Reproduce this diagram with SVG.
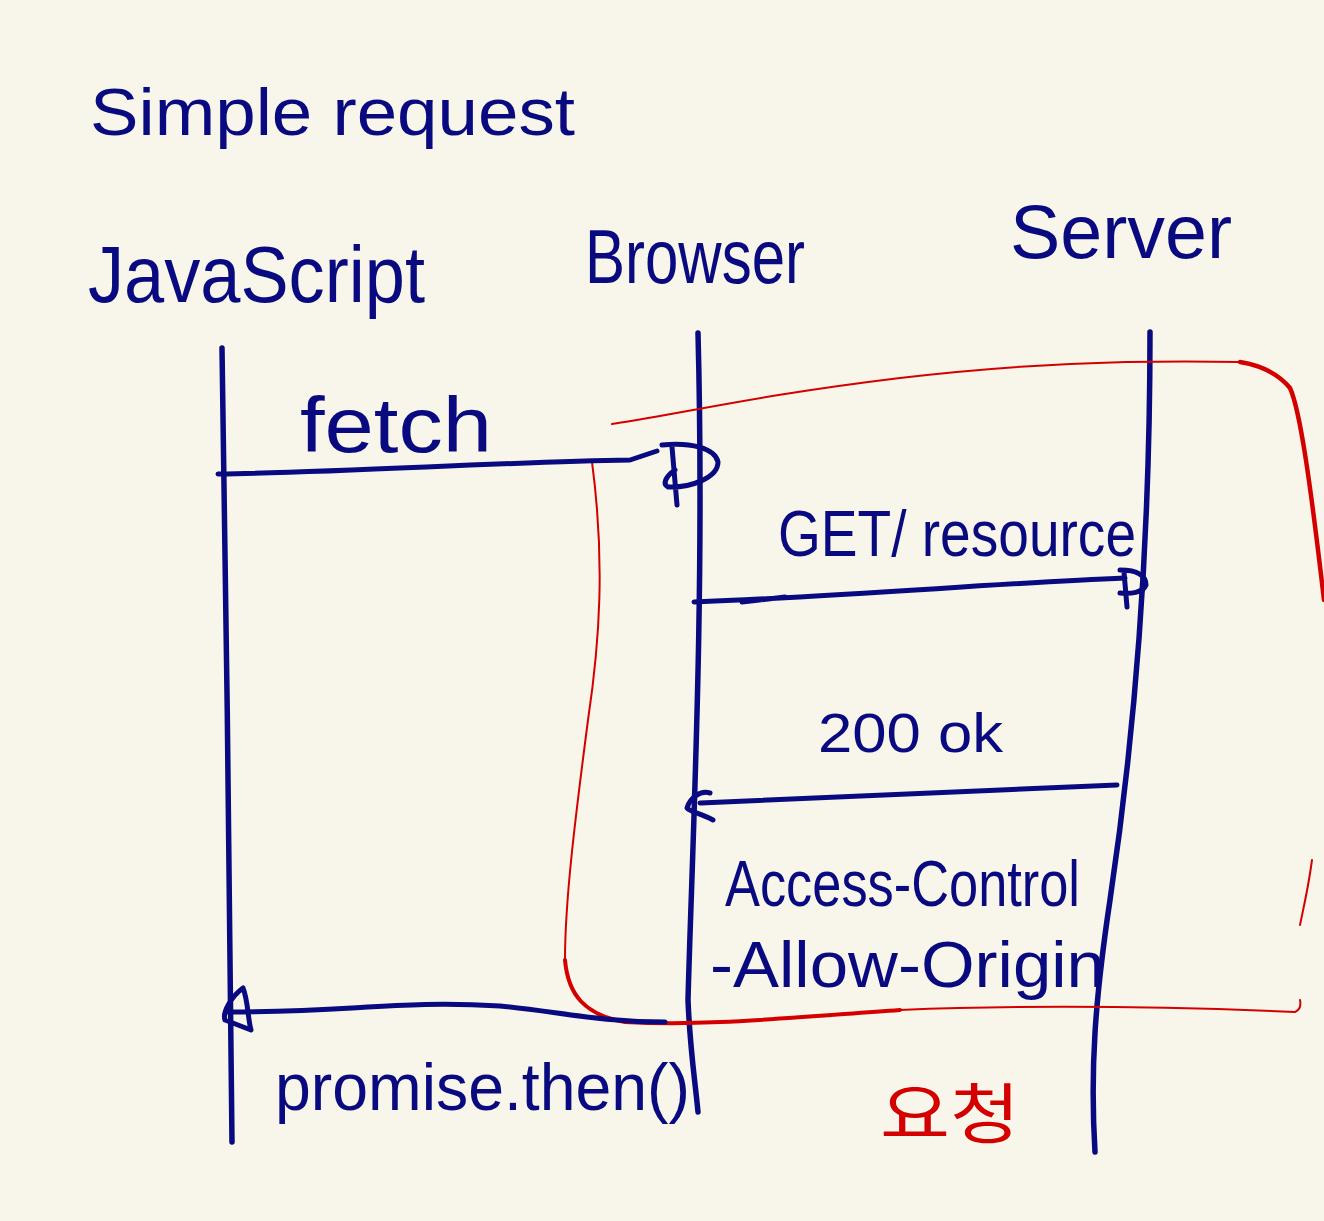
<svg xmlns="http://www.w3.org/2000/svg" width="1324" height="1221" viewBox="0 0 1324 1221">
<style>
.ink{fill:none;stroke:#0a0a80;stroke-linecap:round;stroke-linejoin:round;stroke-width:5}
.life{fill:none;stroke:#0a0a80;stroke-linecap:round;stroke-width:5.5}
.red{fill:none;stroke:#d40000;stroke-linecap:round;stroke-linejoin:round}
.t{font-family:"Liberation Sans","Noto Sans",sans-serif;fill:#0a0a80}
.kr{font-family:"Noto Sans CJK KR","Noto Sans",sans-serif;fill:#d40000}
</style>
<rect width="1324" height="1221" fill="#f8f6eb"/>
<text class="t" x="90" y="135" font-size="66" textLength="485" lengthAdjust="spacingAndGlyphs">Simple request</text>
<g id="javascript">
<text class="t" x="88" y="302" font-size="80" textLength="337" lengthAdjust="spacingAndGlyphs">JavaScript</text>
<path class="life" d="M222,348 C226,600 230,900 232,1142"/>
</g>
<g id="browser">
<text class="t" x="585" y="283" font-size="76" textLength="220" lengthAdjust="spacingAndGlyphs">Browser</text>
<path class="life" d="M698,333 C705,600 692,850 688,1000 C690,1050 695,1080 698,1112"/>
</g>
<g id="server">
<text class="t" x="1010" y="258" font-size="76" textLength="222" lengthAdjust="spacingAndGlyphs">Server</text>
<path class="life" d="M1150,332 C1150,600 1125,800 1110,900 C1095,1000 1090,1070 1095,1152"/>
</g>
<g id="scope">
<path class="red" stroke-width="2" d="M612,424 C700,410 760,395 900,378 C1020,364 1120,360 1240,362"/>
<path class="red" stroke-width="4.5" d="M1240,362 C1265,366 1280,376 1290,388 C1300,410 1310,480 1324,600"/>
<path class="red" stroke-width="2" d="M1312,860 C1308,890 1303,910 1300,925"/>
<path class="red" stroke-width="2" d="M592,462 C605,560 600,640 588,720 C575,820 565,900 565,960"/>
<path class="red" stroke-width="4" d="M565,960 C568,995 585,1015 625,1022 C700,1026 760,1020 900,1010"/>
<path class="red" stroke-width="2" d="M900,1010 C1050,1004 1200,1008 1295,1012 C1300,1010 1301,1005 1300,1000"/>
<text class="kr" x="880" y="1138" font-size="66" textLength="140" lengthAdjust="spacingAndGlyphs">요청</text>
</g>
<g id="connectors">
<text class="t" x="300" y="452" font-size="78" textLength="192" lengthAdjust="spacingAndGlyphs">fetch</text>
<path class="ink" d="M218,474 C350,472 500,462 630,460 L657,451"/>
<path class="ink" d="M662,445 C690,442 715,448 718,462 C718,478 690,488 668,487 C662,484 666,476 675,470 M672,447 L677,505"/>
<text class="t" x="778" y="556" font-size="64" textLength="358" lengthAdjust="spacingAndGlyphs">GET/ resource</text>
<path class="ink" d="M694,602 C850,596 1000,583 1125,578 M742,602 L785,597"/>
<path class="ink" d="M1120,570 C1138,570 1146,576 1146,585 C1143,593 1130,594 1120,593 M1124,572 L1127,607"/>
<text class="t" x="818" y="752" font-size="56" textLength="185" lengthAdjust="spacingAndGlyphs">200 ok</text>
<path class="ink" d="M1117,785 C1000,790 850,797 700,803"/>
<path class="ink" d="M710,793 C700,790 690,798 687,808 C690,812 700,813 713,820"/>
<text class="t" x="725" y="906" font-size="64" textLength="355" lengthAdjust="spacingAndGlyphs">Access-Control</text>
<text class="t" x="710" y="987" font-size="64" textLength="395" lengthAdjust="spacingAndGlyphs">-Allow-Origin</text>
<path class="ink" d="M665,1022 C600,1022 560,1012 500,1006 C400,1000 350,1012 228,1012"/>
<path class="ink" d="M243,988 C248,1000 248,1020 251,1030 L225,1020 C222,1012 232,996 243,988"/>
<text class="t" x="275" y="1110" font-size="66" textLength="415" lengthAdjust="spacingAndGlyphs">promise.then()</text>
</g>
</svg>
